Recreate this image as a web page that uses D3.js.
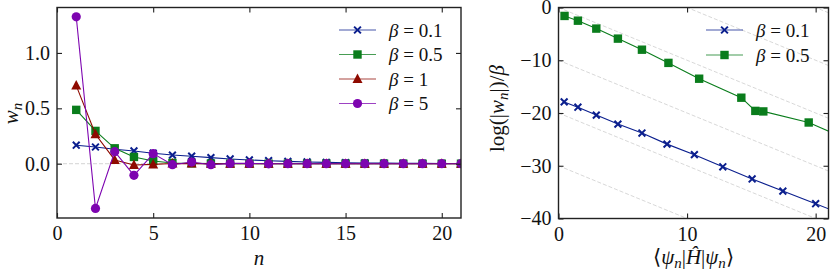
<!DOCTYPE html>
<html>
<head>
<meta charset="utf-8">
<script src="https://cdn.jsdelivr.net/npm/d3@7"></script>
<style>
  body { margin: 0; background: #fff; }
  svg { display: block; font-family: "Liberation Serif", "Times New Roman", serif; }
  .tick text { font-size: 20px; fill: #111; }
</style>
</head>
<body>
<svg id="chart_svg" width="830" height="274"></svg>
<script>
// left panel: weights w_n against n
var n_values = [1, 2, 3, 4, 5, 6, 7, 8, 9, 10, 11, 12, 13, 14, 15, 16, 17, 18, 19, 20, 21]
var w_beta01 = [0.167, 0.151, 0.13, 0.115, 0.095, 0.078, 0.068, 0.055, 0.043, 0.034, 0.027, 0.021, 0.016, 0.012, 0.009, 0.007, 0.005, 0.004, 0.003, 0.002, 0.002]
var w_beta05 = [0.486, 0.296, 0.139, 0.061, 0.024, 0.007, 0.003, 0.001, 0.001, 0, 0, 0, 0, 0, 0, 0, 0, 0, 0, 0, 0]
var w_beta1 = [0.705, 0.266, 0.034, -0.012, -0.006, 0.002, 0.001, 0, 0, 0, 0, 0, 0, 0, 0, 0, 0, 0, 0, 0, 0]
var w_beta5 = [1.326, -0.404, 0.109, -0.105, 0.091, -0.009, 0.015, -0.009, 0.003, 0.003, -0.001, 0, 0, 0, 0, 0, 0, 0, 0, 0, 0]

// right panel: log(|w_n|)/beta against <psi_n|H|psi_n>
var energy_beta01 = [0.44, 1.51, 2.94, 4.62, 6.49, 8.44, 10.57, 12.78, 15.06, 17.45, 20.0, 22.7]
var logw_beta01 = [-17.9, -18.9, -20.4, -22.1, -23.8, -25.9, -27.9, -30.2, -32.5, -34.8, -37.2, -39.8]
var energy_beta05 = [0.47, 1.51, 2.94, 4.62, 6.49, 8.55, 10.94, 14.22, 15.31, 15.93, 19.46, 23.0]
var logw_beta05 = [-1.6, -2.5, -4.0, -5.9, -8.0, -10.5, -13.5, -17.1, -19.6, -19.7, -21.8, -25.6]
var guide_offsets = [20, 10, 0, -10, -20, -30]

var left_ticks_x = [0, 5, 10, 15, 20]
var left_ticks_y = [0, 0.5, 1.0]
var right_ticks_x = [0, 10, 20]
var right_ticks_y = [0, -10, -20, -30, -40]

var beta_labels = ["0.1", "0.5", "1", "5"]
var colors = ["#0b1f8e", "#0a7d1c", "#8e0a00", "#7d04b0"]
var shapes = ["x", "square", "triangle", "circle"]

var svg = d3.select("#chart_svg")
var grid_color = "#d4d4d4"

function draw_marker(g, shape, color, x, y){
    if(shape == "x"){
        var s = 3.4
        g.append("path")
            .attr("d", "M" + (x - s) + "," + (y - s) + "L" + (x + s) + "," + (y + s) +
                       "M" + (x - s) + "," + (y + s) + "L" + (x + s) + "," + (y - s))
            .attr("stroke", color).attr("stroke-width", 2).attr("fill", "none")
    }else if(shape == "square"){
        g.append("rect")
            .attr("x", x - 4.2).attr("y", y - 4.2)
            .attr("width", 8.4).attr("height", 8.4)
            .attr("fill", color)
    }else if(shape == "triangle"){
        var h = 5
        g.append("path")
            .attr("d", "M" + x + "," + (y - h - 0.5) + "L" + (x + h) + "," + (y + h - 1) + "L" + (x - h) + "," + (y + h - 1) + "Z")
            .attr("fill", color)
    }else{
        g.append("circle").attr("cx", x).attr("cy", y).attr("r", 4.6).attr("fill", color)
    }
}

function add_frame(g, x, y, fmt_x, fmt_y, ticks_x, ticks_y, clip_id){
    var w = x.range()[1] - x.range()[0]
    var h = y.range()[0] - y.range()[1]

    g.append("g").attr("transform", "translate(0," + h + ")")
        .call(d3.axisBottom(x).tickValues(ticks_x).tickFormat(fmt_x).tickSizeInner(-5).tickSizeOuter(0).tickPadding(8))
    g.append("g")
        .call(d3.axisTop(x).tickValues(ticks_x).tickFormat("").tickSizeInner(-5).tickSizeOuter(0))
    g.append("g")
        .call(d3.axisLeft(y).tickValues(ticks_y).tickFormat(fmt_y).tickSizeInner(-5).tickSizeOuter(0).tickPadding(7))
    g.append("g").attr("transform", "translate(" + w + ",0)")
        .call(d3.axisRight(y).tickValues(ticks_y).tickFormat("").tickSizeInner(-5).tickSizeOuter(0))

    g.selectAll(".domain").remove()
    g.selectAll(".tick line").attr("stroke", "#222").attr("stroke-width", 1.1)
    g.selectAll(".tick text").attr("font-family", "'Liberation Serif', 'Times New Roman', serif")

    g.append("rect")
        .attr("width", w).attr("height", h)
        .attr("fill", "none").attr("stroke", "#222").attr("stroke-width", 1.4)

    g.append("clipPath").attr("id", clip_id)
        .append("rect").attr("width", w).attr("height", h)
}

function fmt_minus(d){
    return d < 0 ? "\u2212" + Math.abs(d) : "" + d
}

function add_legend(g, x0, y0, step, count){
    for(var i = 0; i < count; i++){
        var yy = y0 + i * step
        g.append("line")
            .attr("x1", x0).attr("x2", x0 + 37)
            .attr("y1", yy).attr("y2", yy)
            .attr("stroke", colors[i]).attr("stroke-width", 1.1).attr("opacity", 0.75)
        draw_marker(g, shapes[i], colors[i], x0 + 18.5, yy)
        var t = g.append("text")
            .attr("x", x0 + 50).attr("y", yy + 6.5)
            .attr("font-size", 19).attr("fill", "#111")
        t.append("tspan").attr("font-style", "italic").text("\u03b2")
        t.append("tspan").text(" = " + beta_labels[i])
    }
}

// ---------- left panel ----------
var left_margin = {left: 57, top: 7.5}
var left_x = d3.scaleLinear().domain([0, 21]).range([0, 404])
var left_y = d3.scaleLinear().domain([-0.49, 1.41]).range([210.5, 0])

var left_g = svg.append("g")
    .attr("transform", "translate(" + left_margin.left + "," + left_margin.top + ")")

var left_plot = left_g.append("g").attr("clip-path", "url(#clip_left)")

left_plot.append("line")
    .attr("x1", left_x(0)).attr("x2", left_x(21))
    .attr("y1", left_y(0)).attr("y2", left_y(0))
    .attr("stroke", grid_color).attr("stroke-width", 1).attr("stroke-dasharray", "4,2")

var left_series = [w_beta01, w_beta05, w_beta1, w_beta5]
for(var s = 0; s < left_series.length; s++){
    var pts = n_values.map(function(d, i){ return [d, left_series[s][i]] })
    var line = d3.line()
        .x(function(d){ return left_x(d[0]) })
        .y(function(d){ return left_y(d[1]) })
    left_plot.append("path")
        .attr("d", line(pts))
        .attr("fill", "none").attr("stroke", colors[s]).attr("stroke-width", 1.1)
    for(var i = 0; i < pts.length; i++){
        draw_marker(left_plot, shapes[s], colors[s], left_x(pts[i][0]), left_y(pts[i][1]))
    }
}

add_frame(left_g, left_x, left_y, d3.format("d"), d3.format(".1f"), left_ticks_x, left_ticks_y, "clip_left")
add_legend(left_g, 282, 22.5, 24.5, 4)

left_g.append("text")
    .attr("x", 202).attr("y", 257.5)
    .attr("text-anchor", "middle").attr("font-size", 21).attr("font-style", "italic")
    .attr("fill", "#111").text("n")

var wlab = left_g.append("text")
    .attr("transform", "translate(-39," + 106 + ") rotate(-90)")
    .attr("text-anchor", "middle").attr("font-size", 21).attr("fill", "#111")
wlab.append("tspan").attr("font-style", "italic").text("w")
wlab.append("tspan").attr("font-style", "italic").attr("font-size", 15).attr("dy", 4).text("n")

// ---------- right panel ----------
var right_margin = {left: 558.5, top: 7.5}
var right_x = d3.scaleLinear().domain([0, 21]).range([0, 270])
var right_y = d3.scaleLinear().domain([-40, 0]).range([211, 0])

var right_g = svg.append("g")
    .attr("transform", "translate(" + right_margin.left + "," + right_margin.top + ")")

var right_plot = right_g.append("g").attr("clip-path", "url(#clip_right)")

for(var k = 0; k < guide_offsets.length; k++){
    var c = guide_offsets[k]
    right_plot.append("line")
        .attr("x1", right_x(0)).attr("y1", right_y(c))
        .attr("x2", right_x(21)).attr("y2", right_y(c - 21))
        .attr("stroke", grid_color).attr("stroke-width", 0.9).attr("stroke-dasharray", "4,2")
}

var right_series = [[energy_beta01, logw_beta01], [energy_beta05, logw_beta05]]
for(var s = 0; s < right_series.length; s++){
    var pts = right_series[s][0].map(function(d, i){ return [d, right_series[s][1][i]] })
    var line = d3.line()
        .x(function(d){ return right_x(d[0]) })
        .y(function(d){ return right_y(d[1]) })
    right_plot.append("path")
        .attr("d", line(pts))
        .attr("fill", "none").attr("stroke", colors[s]).attr("stroke-width", 1.1)
    for(var i = 0; i < pts.length; i++){
        draw_marker(right_plot, shapes[s], colors[s], right_x(pts[i][0]), right_y(pts[i][1]))
    }
}

add_frame(right_g, right_x, right_y, d3.format("d"), fmt_minus, right_ticks_x, right_ticks_y, "clip_right")
add_legend(right_g, 147.5, 22.5, 25, 2)

right_g.append("text")
    .attr("x", 135).attr("y", 256)
    .attr("text-anchor", "middle").attr("font-size", 21).attr("fill", "#111")
    .html('\u27e8<tspan font-style="italic">\u03c8</tspan><tspan font-style="italic" font-size="15" dy="4">n</tspan><tspan dy="-4">|</tspan><tspan font-style="italic">\u0124</tspan>|<tspan font-style="italic">\u03c8</tspan><tspan font-style="italic" font-size="15" dy="4">n</tspan><tspan dy="-4">\u27e9</tspan>')

right_g.append("text")
    .attr("transform", "translate(-55," + 101 + ") rotate(-90)")
    .attr("text-anchor", "middle").attr("font-size", 21).attr("fill", "#111")
    .html('log(|<tspan font-style="italic">w</tspan><tspan font-style="italic" font-size="15" dy="4">n</tspan><tspan dy="-4">|)/</tspan><tspan font-style="italic">\u03b2</tspan>')
</script>
</body>
</html>
